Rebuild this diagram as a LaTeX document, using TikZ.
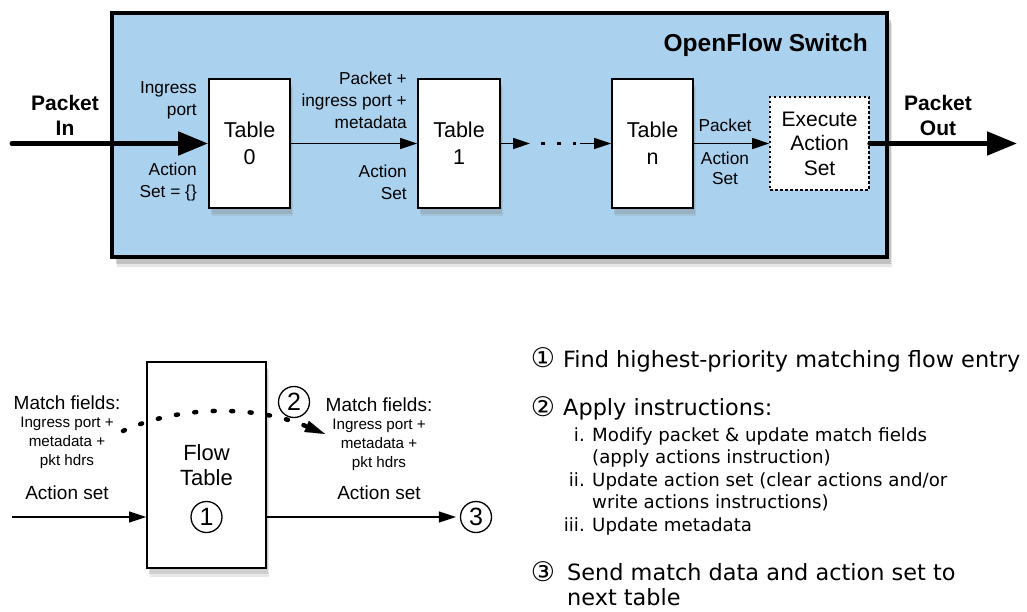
\documentclass[tikz,border=0pt]{standalone}
\usepackage{fontspec}
\setmainfont{Liberation Sans}
\newfontfamily\djv{DejaVu Sans}
\usetikzlibrary{arrows.meta,shadows}
\definecolor{swblue}{RGB}{170,210,239}
\begin{document}
\begin{tikzpicture}[x=1pt,y=-1pt,
  softshadow/.style={drop shadow={shadow xshift=3pt,shadow yshift=-8pt,shadow scale=1.005,opacity=0.18},
                     drop shadow={shadow xshift=2pt,shadow yshift=-6pt,opacity=0.25}},
  tbl/.style={draw,line width=1.8pt,fill=white,minimum width=81pt,minimum height=129pt,inner sep=0pt,align=center,
    font=\fontsize{21.5}{27}\selectfont,softshadow},
  lbl/.style={font=\fontsize{17.3}{22}\selectfont,inner sep=0pt},
  big/.style={font=\bfseries\fontsize{21}{25}\selectfont,inner sep=0pt,align=center},
  thin/.style={line width=1.5pt,-{Triangle[length=17pt,width=11pt]}},
  fat/.style={line width=5pt,line cap=round,-{Triangle[length=30pt,width=23pt]}},
  cnum/.style={circle,draw,line width=1.3pt,minimum size=31pt,inner sep=0pt,font=\fontsize{25}{25}\selectfont},
  dtxt/.style={font=\djv\fontsize{22.4}{26}\selectfont,inner sep=0pt},
  stxt/.style={font=\djv\fontsize{18.2}{22}\selectfont,inner sep=0pt},
  gly/.style={font=\djv\fontsize{27}{27}\selectfont,inner sep=0pt}
]
\useasboundingbox (0,0) rectangle (1027,612);
% switch
\node[draw,line width=3.5pt,fill=swblue,minimum width=775pt,minimum height=244pt,inner sep=0pt,
  drop shadow={shadow xshift=5pt,shadow yshift=-10pt,opacity=0.2},
  drop shadow={shadow xshift=4pt,shadow yshift=-7pt,opacity=0.35}] (sw) at (499.5,135) {};
\node[font=\bfseries\fontsize{24.5}{28}\selectfont,anchor=east,inner sep=0pt] (swl) at (868,45) {OpenFlow Switch};
% tables
\node[tbl] (t0) at (249.5,143.5) {Table\\0};
\node[tbl,minimum width=82pt] (t1) at (459,143.5) {Table\\1};
\node[tbl] (tn) at (652.5,143.5) {Table\\n};
\node[draw,dash pattern=on 2.5pt off 2.5pt,line width=1.6pt,fill=white,minimum width=99pt,minimum height=93pt,
  align=center,font=\fontsize{21}{24.5}\selectfont,inner sep=0pt] (ex) at (819.5,143.5) {Execute\\Action\\Set};
% connectors
\coordinate (pin) at (12,143.5);
\coordinate (pout) at (1017,143.5);
\coordinate (d1) at (530,143.5);
\coordinate (d2) at (580,143.5);
\coordinate (da) at (541,143.5);
\coordinate (db) at (576,143.5);
\draw[fat] (pin) -- (t0.west);
\draw[fat] (ex.east) -- (pout);
\draw[thin] (t0.east) -- (t1.west);
\draw[thin] (t1.east) -- (d1);
\draw[line width=3pt,dash pattern=on 4pt off 12pt] (da) -- (db);
\draw[thin] (d2) -- (tn.west);
\draw[thin] (tn.east) -- (ex.west);
% labels
\node[lbl,align=right,anchor=east] (l1) at (197,100) {Ingress\\port};
\node[lbl,align=right,anchor=east] (l2) at (197,182.5) {Action\\Set = \{\}};
\node[lbl,align=right,anchor=east] (l3) at (407,100) {Packet +\\ingress port +\\metadata};
\node[lbl,align=right,anchor=east] (l4) at (407,182.5) {Action\\Set};
\node[lbl] (l5) at (725,125) {Packet};
\node[lbl,align=center,font=\fontsize{17.3}{20}\selectfont] (l6) at (725,168) {Action\\Set};
\node[big] (pinl) at (65,115.5) {Packet\\In};
\node[big] (poutl) at (938,115.5) {Packet\\Out};
% bottom diagram
\node[draw,line width=1.8pt,fill=white,minimum width=119pt,minimum height=206pt,inner sep=0pt,align=center,
  font=\fontsize{22}{25}\selectfont,softshadow] (ft) at (206.5,465) {Flow\\Table};
\node[cnum] (c1) at (206.5,517) {1};
\node[cnum] (c2) at (294,402) {2};
\node[cnum] (c3) at (476,517) {3};
\coordinate (fin) at (12,517);
\draw[thin] (fin) -- (fin -| ft.west);
\draw[thin,shorten >=4pt] (ft.east |- c3) -- (c3.west);
\coordinate (ds) at (123,431);
\coordinate (de) at (325,434);
\draw[line width=4.5pt,line cap=round,dash pattern=on 2pt off 16.5pt,
  -{Triangle[length=20pt,width=12pt,line width=0.1pt]}] (ds) .. controls (180,405) and (255,405) .. (de);
\node[font=\fontsize{19}{22}\selectfont,inner sep=0pt] (mf1) at (67,403) {Match fields:};
\node[font=\fontsize{15.2}{19}\selectfont,align=center,inner sep=0pt] (mf2) at (67,443) {Ingress port +\\metadata +\\pkt hdrs};
\node[font=\fontsize{19}{22}\selectfont,inner sep=0pt] (as1) at (67,493) {Action set};
\node[font=\fontsize{19}{22}\selectfont,inner sep=0pt] (mf3) at (379,405) {Match fields:};
\node[font=\fontsize{15.2}{19}\selectfont,align=center,inner sep=0pt] (mf4) at (379,445) {Ingress port +\\metadata +\\pkt hdrs};
\node[font=\fontsize{19}{22}\selectfont,inner sep=0pt] (as2) at (379,493) {Action set};
% right text
\node[gly] (g1) at (543,358) {①};
\node[dtxt,anchor=base west] (s1) at (563,367) {Find highest-priority matching flow entry};
\node[gly] (g2) at (543,407) {②};
\node[dtxt,anchor=base west] (s2) at (563,415) {Apply instructions:};
\node[stxt,anchor=base east] (i1) at (585,441) {i.};
\node[stxt,anchor=base west] (s3) at (592,441) {Modify packet \& update match fields};
\node[stxt,anchor=base west] (s4) at (592,463) {(apply actions instruction)};
\node[stxt,anchor=base east] (i2) at (585,486) {ii.};
\node[stxt,anchor=base west] (s5) at (592,486) {Update action set (clear actions and/or};
\node[stxt,anchor=base west] (s6) at (592,508) {write actions instructions)};
\node[stxt,anchor=base east] (i3) at (585,531) {iii.};
\node[stxt,anchor=base west] (s7) at (592,531) {Update metadata};
\node[gly] (g3) at (543,572) {③};
\node[dtxt,anchor=base west] (s8) at (567,580) {Send match data and action set to};
\node[dtxt,anchor=base west] (s9) at (567,605.5) {next table};
\end{tikzpicture}
\end{document}
